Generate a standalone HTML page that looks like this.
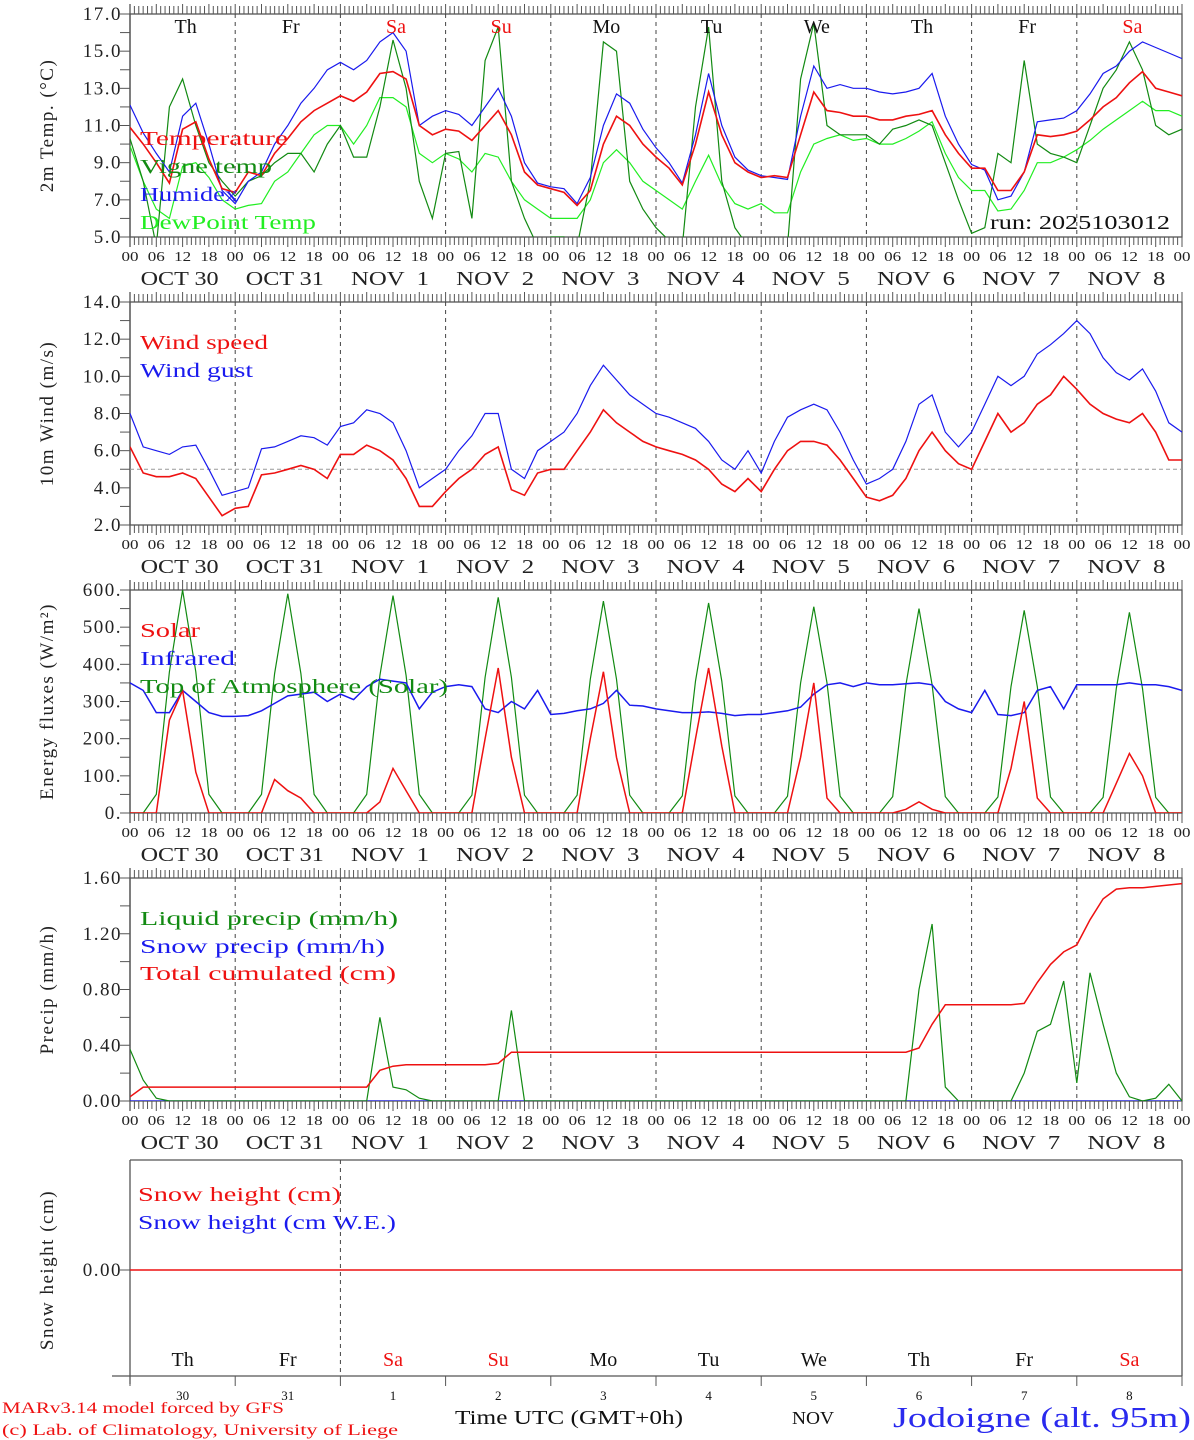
<!DOCTYPE html>
<html><head><meta charset="utf-8">
<style>
html,body{margin:0;padding:0;background:#fff;}
svg{display:block;font-family:"Liberation Serif",serif;}
text{white-space:pre;}
</style></head>
<body>
<svg id="chart" width="1194" height="1440" viewBox="0 0 1194 1440" xmlns="http://www.w3.org/2000/svg"></svg>
<script>
const temperature=[10.9,10.0,9.0,7.9,10.8,11.2,9.2,7.6,7.4,8.5,8.3,9.5,10.3,11.2,11.8,12.2,12.6,12.3,12.8,13.8,13.9,13.5,11.0,10.5,10.8,10.7,10.2,11.0,11.8,10.5,8.5,7.8,7.6,7.4,6.7,7.5,10.0,11.5,11.0,10.0,9.3,8.7,7.8,10.0,12.8,10.5,9.0,8.5,8.2,8.3,8.2,10.5,12.8,11.8,11.7,11.5,11.5,11.3,11.3,11.5,11.6,11.8,10.5,9.5,8.7,8.7,7.5,7.5,8.5,10.5,10.4,10.5,10.7,11.3,12.0,12.5,13.3,13.9,13.0,12.8,12.6];
const vigneTemp=[10.3,8.0,4.5,12.0,13.5,11.0,9.0,8.0,7.2,8.0,8.3,9.0,9.5,9.5,8.5,10.0,11.0,9.3,9.3,12.0,15.6,13.0,8.0,6.0,9.5,9.6,6.0,14.5,16.3,8.0,6.0,4.5,5.0,5.0,4.5,8.0,15.5,15.0,8.0,6.5,5.5,4.8,4.5,12.0,16.3,8.0,5.5,4.5,4.0,4.0,4.5,13.5,16.5,11.0,10.5,10.5,10.5,10.0,10.8,11.0,11.3,11.0,9.0,7.0,5.2,5.5,9.5,9.0,14.5,10.0,9.5,9.3,9.0,11.0,13.0,14.0,15.5,14.0,11.0,10.5,10.8];
const humidex=[12.1,10.6,9.5,8.5,11.5,12.2,10.0,7.5,6.8,8.0,8.5,10.0,11.0,12.2,13.0,14.0,14.4,14.0,14.5,15.5,16.0,15.0,11.0,11.5,11.8,11.6,11.0,12.0,13.0,11.5,9.0,7.9,7.7,7.6,6.8,8.2,11.0,12.7,12.2,10.8,9.8,9.0,7.9,10.5,13.8,11.0,9.3,8.6,8.3,8.2,8.1,11.5,14.2,13.0,13.2,13.0,13.0,12.8,12.7,12.8,13.0,13.8,11.5,10.0,8.9,8.6,7.0,7.2,8.5,11.2,11.3,11.4,11.8,12.7,13.8,14.2,15.0,15.5,15.2,14.9,14.6];
const dewPoint=[9.9,8.0,6.5,6.0,8.8,9.0,8.2,7.0,6.5,6.7,6.8,8.0,8.5,9.5,10.5,11.0,11.0,10.0,11.0,12.5,12.5,12.0,9.5,9.0,9.5,9.2,8.5,9.5,9.3,8.0,7.0,6.5,6.0,6.0,6.0,7.0,9.0,9.7,9.0,8.0,7.5,7.0,6.5,8.0,9.4,7.8,6.8,6.5,6.8,6.3,6.3,8.5,10.0,10.3,10.5,10.2,10.3,10.0,10.0,10.3,10.7,11.2,9.5,8.2,7.5,7.5,6.4,6.5,7.5,9.0,9.0,9.3,9.7,10.2,10.8,11.3,11.8,12.3,11.8,11.8,11.5];
const windSpeed=[6.2,4.8,4.6,4.6,4.8,4.5,3.5,2.5,2.9,3.0,4.7,4.8,5.0,5.2,5.0,4.5,5.8,5.8,6.3,6.0,5.5,4.5,3.0,3.0,3.8,4.5,5.0,5.8,6.2,3.9,3.6,4.8,5.0,5.0,6.0,7.0,8.2,7.5,7.0,6.5,6.2,6.0,5.8,5.5,5.0,4.2,3.8,4.5,3.8,5.0,6.0,6.5,6.5,6.3,5.5,4.5,3.5,3.3,3.6,4.5,6.0,7.0,6.0,5.3,5.0,6.5,8.0,7.0,7.5,8.5,9.0,10.0,9.3,8.5,8.0,7.7,7.5,8.0,7.0,5.5,5.5];
const windGust=[8.0,6.2,6.0,5.8,6.2,6.3,5.0,3.6,3.8,4.0,6.1,6.2,6.5,6.8,6.7,6.3,7.3,7.5,8.2,8.0,7.5,6.0,4.0,4.5,5.0,6.0,6.8,8.0,8.0,5.0,4.5,6.0,6.5,7.0,8.0,9.5,10.6,9.8,9.0,8.5,8.0,7.8,7.5,7.2,6.5,5.5,5.0,6.0,4.8,6.5,7.8,8.2,8.5,8.2,7.0,5.5,4.2,4.5,5.0,6.5,8.5,9.0,7.0,6.2,7.0,8.5,10.0,9.5,10.0,11.2,11.7,12.3,13.0,12.3,11.0,10.2,9.8,10.4,9.2,7.5,7.0];
const solar=[0,0,0,250,330,110,0,0, 0,0,0,90,60,40,0,0, 0,0,0,30,120,60,0,0, 0,0,0,200,390,150,0,0, 0,0,0,200,380,150,0,0, 0,0,0,200,390,180,0,0, 0,0,0,150,350,40,0,0, 0,0,0,10,30,10,0,0, 0,0,0,120,300,40,0,0, 0,0,0,80,160,100,0,0, 0];
const infrared=[350,330,270,270,330,300,270,260,260,262,275,295,315,320,325,300,320,305,340,360,355,350,280,325,340,345,340,280,270,300,280,330,265,268,275,280,295,330,290,288,280,275,270,270,272,268,262,265,265,270,275,285,320,345,350,340,350,345,345,348,350,345,300,280,270,330,265,262,270,330,340,280,345,345,345,345,350,345,345,340,330];
const toaSolar=[0,0,50,380,600,380,50,0, 0,0,50,375,590,375,50,0, 0,0,50,370,585,370,50,0, 0,0,48,365,580,365,48,0, 0,0,48,360,570,360,48,0, 0,0,46,355,565,355,46,0, 0,0,45,350,555,350,45,0, 0,0,44,345,550,345,44,0, 0,0,43,340,545,340,43,0, 0,0,42,335,540,335,42,0, 0];
const liquidPrecip=[0.37,0.15,0.02,0,0,0,0,0,0,0,0,0,0,0,0,0,0,0,0,0.6,0.1,0.08,0.02,0,0,0,0,0,0,0.65,0,0,0,0,0,0,0,0,0,0,0,0,0,0,0,0,0,0,0,0,0,0,0,0,0,0,0,0,0,0,0.8,1.27,0.1,0,0,0,0,0,0.2,0.5,0.55,0.86,0.13,0.92,0.55,0.2,0.03,0,0.02,0.12,0];
const snowPrecip=new Array(81).fill(0);
const totalCum=[0.03,0.1,0.1,0.1,0.1,0.1,0.1,0.1,0.1,0.1,0.1,0.1,0.1,0.1,0.1,0.1,0.1,0.1,0.1,0.22,0.25,0.26,0.26,0.26,0.26,0.26,0.26,0.26,0.27,0.35,0.35,0.35,0.35,0.35,0.35,0.35,0.35,0.35,0.35,0.35,0.35,0.35,0.35,0.35,0.35,0.35,0.35,0.35,0.35,0.35,0.35,0.35,0.35,0.35,0.35,0.35,0.35,0.35,0.35,0.35,0.38,0.55,0.69,0.69,0.69,0.69,0.69,0.69,0.70,0.85,0.98,1.07,1.12,1.3,1.45,1.52,1.53,1.53,1.54,1.55,1.56];
const snowHeight=new Array(81).fill(0);
const weekdays=["Th","Fr","Sa","Su","Mo","Tu","We","Th","Fr","Sa"];
const weekdayRed=[false,false,true,true,false,false,false,false,false,true];
const dateLabels=["OCT 30","OCT 31","NOV  1","NOV  2","NOV  3","NOV  4","NOV  5","NOV  6","NOV  7","NOV  8"];
const dayNums=["30","31","1","2","3","4","5","6","7","8"];

const svg=document.getElementById('chart');
const NS='http://www.w3.org/2000/svg';
const X0=130,X1=1182,N=80;
function X(i){return X0+i*(X1-X0)/N;}
function mk(tag,attrs,parent){const e=document.createElementNS(NS,tag);for(const k in attrs)e.setAttribute(k,attrs[k]);(parent||svg).appendChild(e);return e;}
function txt(s,x,y,size,fill,anchor,len,parent){const t=mk('text',{x:x,y:y,'font-size':size,fill:fill||'#000','text-anchor':anchor||'start'},parent);if(len){t.setAttribute('textLength',len);t.setAttribute('lengthAdjust','spacingAndGlyphs');}t.textContent=s;return t;}

const panels=[
 {name:'temperature-panel',top:14,bot:237,min:5,max:17,step:2,minor:1,fmt:v=>v.toFixed(1),title:'2m Temp. (°C)'},
 {name:'wind-panel',top:302,bot:525,min:2,max:14,step:2,minor:1,fmt:v=>v.toFixed(1),title:'10m Wind (m/s)'},
 {name:'energy-panel',top:590,bot:813,min:0,max:600,step:100,minor:50,fmt:v=>v.toFixed(0)+'.',title:'Energy fluxes (W/m²)'},
 {name:'precip-panel',top:878,bot:1101,min:0,max:1.6,step:0.4,minor:0.2,fmt:v=>v.toFixed(2),title:'Precip (mm/h)'}
];
function Y(p,v){return p.bot-(v-p.min)/(p.max-p.min)*(p.bot-p.top);}

panels.forEach((p,pi)=>{
 const g=mk('g',{});
 
 
 mk('rect',{x:X0,y:p.top,width:X1-X0,height:p.bot-p.top,fill:'none',stroke:'#555','stroke-width':1.3},g);
 mk('line',{x1:X0,y1:p.top-10,x2:X0,y2:p.bot+10,stroke:'#555','stroke-width':1.3},g);
 for(let h=0;h<=240;h++){const x=X0+h*(X1-X0)/240;const L=h%6==0?10:8;
  mk('line',{x1:x,y1:p.top,x2:x,y2:p.top-L,stroke:'#555','stroke-width':1},g);
  mk('line',{x1:x,y1:p.bot,x2:x,y2:p.bot+L,stroke:'#555','stroke-width':1},g);}
 for(let d=1;d<10;d++){mk('line',{x1:X(d*8),y1:p.top,x2:X(d*8),y2:p.bot,stroke:'#444','stroke-width':1,'stroke-dasharray':'4,4'},g);}
 for(let v=p.min;v<=p.max+1e-9;v+=p.minor){const y=Y(p,v);mk('line',{x1:X0-10,y1:y,x2:X0,y2:y,stroke:'#555','stroke-width':1},g);}
 for(let v=p.min;v<=p.max+1e-9;v+=p.step){const t=txt(p.fmt(v),122,Y(p,v)+6,19,'#222','end',null,g);t.setAttribute('letter-spacing','1.5');}
 const yc=(p.top+p.bot)/2;
 const tt=txt(p.title,0,0,19,'#222','middle',null,g);tt.setAttribute('transform','translate(53,'+yc+') rotate(-90)');tt.setAttribute('letter-spacing','1.5');
 for(let d=0;d<10;d++){
  ['00','06','12','18'].forEach((s,k)=>{txt(s,X(d*8+k*2),p.bot+24,14,'#222','middle',17,g);});
  txt(dateLabels[d],X(d*8+4)-3,p.bot+48,20,'#222','middle',78,g);
 }
 txt('00',X1,p.bot+24,14,'#222','middle',17,g);
});

function line(p,arr,color,name,w){
 const pts=arr.map((v,i)=>X(i).toFixed(1)+','+Y(p,v).toFixed(1)).join(' ');
 const e=mk('polyline',{points:pts,fill:'none',stroke:color,'stroke-width':w||1.2,'clip-path':'url(#clip'+panels.indexOf(p)+')'});
 
 
 return e;
}
const defs=mk('defs',{});
panels.forEach((p,i)=>{const c=mk('clipPath',{id:'clip'+i},defs);mk('rect',{x:X0,y:p.top,width:X1-X0,height:p.bot-p.top},c);});

const P1=panels[0],P2=panels[1],P3=panels[2],P4=panels[3];
line(P1,dewPoint,'#22ee22','dewpoint-line');
line(P1,vigneTemp,'#128a12','vigne-temp-line');
line(P1,humidex,'#1a1aee','humidex-line');
line(P1,temperature,'#ee1111','temperature-line',1.6);
mk('line',{x1:X0,y1:Y(P2,5),x2:X1,y2:Y(P2,5),stroke:'#999','stroke-width':1,'stroke-dasharray':'4,3'});
line(P2,windGust,'#1a1aee','wind-gust-line');
line(P2,windSpeed,'#ee1111','wind-speed-line',1.6);
line(P3,toaSolar,'#128a12','toa-solar-line');
line(P3,infrared,'#1a1aee','infrared-line',1.5);
line(P3,solar,'#ee1111','solar-line',1.5);
line(P4,snowPrecip,'#1a1aee','snow-precip-line');
line(P4,liquidPrecip,'#128a12','liquid-precip-line');
line(P4,totalCum,'#ee1111','total-cumulated-line',1.5);

function leg(s,x,y,c,len,name){const t=txt(s,x,y,20,c,'start',len);}
leg('Temperature',140,145,'#ee1111',148,'legend-temperature');
leg('Vigne temp',140,173,'#128a12',132,'legend-vigne-temp');
leg('Humidex',140,201,'#1a1aee',98,'legend-humidex');
leg('DewPoint Temp',140,229,'#22ee22',176,'legend-dewpoint');
leg('run: 2025103012',990,229,'#111',180,'run-label');
leg('Wind speed',140,349,'#ee1111',128,'legend-wind-speed');
leg('Wind gust',140,377,'#1a1aee',113,'legend-wind-gust');
leg('Solar',140,637,'#ee1111',60,'legend-solar');
leg('Infrared',140,665,'#1a1aee',95,'legend-infrared');
leg('Top of Atmosphere (Solar)',140,693,'#128a12',308,'legend-toa');
leg('Liquid precip (mm/h)',140,925,'#128a12',258,'legend-liquid');
leg('Snow precip (mm/h)',140,953,'#1a1aee',245,'legend-snow-precip');
leg('Total cumulated (cm)',140,980,'#ee1111',256,'legend-total');
leg('Snow height (cm)',138,1201,'#ee1111',203,'legend-snow-height');
leg('Snow height (cm W.E.)',138,1229,'#1a1aee',258,'legend-snow-we');

for(let d=0;d<10;d++){txt(weekdays[d],X(d*8+4)+3,33,20,weekdayRed[d]?'#ee1111':'#111','middle');}

const g5=mk('g',{});


mk('line',{x1:X0,y1:1160,x2:X1,y2:1160,stroke:'#555','stroke-width':1.3},g5);
mk('line',{x1:X0,y1:1160,x2:X0,y2:1384,stroke:'#555','stroke-width':1.3},g5);
mk('line',{x1:X1,y1:1160,x2:X1,y2:1376,stroke:'#555','stroke-width':1.3},g5);
mk('line',{x1:X0-18,y1:1376,x2:X1,y2:1376,stroke:'#555','stroke-width':1.3},g5);
mk('line',{x1:X(8*2),y1:1160,x2:X(8*2),y2:1376,stroke:'#444','stroke-width':1,'stroke-dasharray':'4,4'},g5);
for(let d=0;d<=10;d++){mk('line',{x1:X(d*8),y1:1376,x2:X(d*8),y2:1386,stroke:'#555','stroke-width':1},g5);}
mk('line',{x1:X0-10,y1:1270,x2:X0,y2:1270,stroke:'#555'},g5);
{const t=txt('0.00',122,1276,19,'#222','end',null,g5);t.setAttribute('letter-spacing','1.5');}
{const t=txt('Snow height (cm)',0,0,19,'#222','middle',null,g5);t.setAttribute('transform','translate(53,1270) rotate(-90)');t.setAttribute('letter-spacing','1.5');}
{const pts=snowHeight.map((v,i)=>X(i).toFixed(1)+','+(1270-v*50).toFixed(1)).join(' ');
 const e=mk('polyline',{points:pts,fill:'none',stroke:'#ee1111','stroke-width':1.5},g5);
 
 }
for(let d=0;d<10;d++){
 txt(weekdays[d],X(d*8+4),1366,20,weekdayRed[d]?'#ee1111':'#111','middle',null,g5);
 txt(dayNums[d],X(d*8+4),1400,13,'#111','middle',null,g5);
}
txt('MARv3.14 model forced by GFS',2,1413,16,'#ee1111','start',282);
txt('(c) Lab. of Climatology, University of Liege',2,1435,16,'#ee1111','start',396);
txt('Time UTC (GMT+0h)',455,1424,20,'#111','start',228);
txt('NOV',792,1424,18,'#111','start',42);
txt('Jodoigne (alt. 95m)',893,1427,28,'#2a2aee','start',298);
</script>
</body></html>
